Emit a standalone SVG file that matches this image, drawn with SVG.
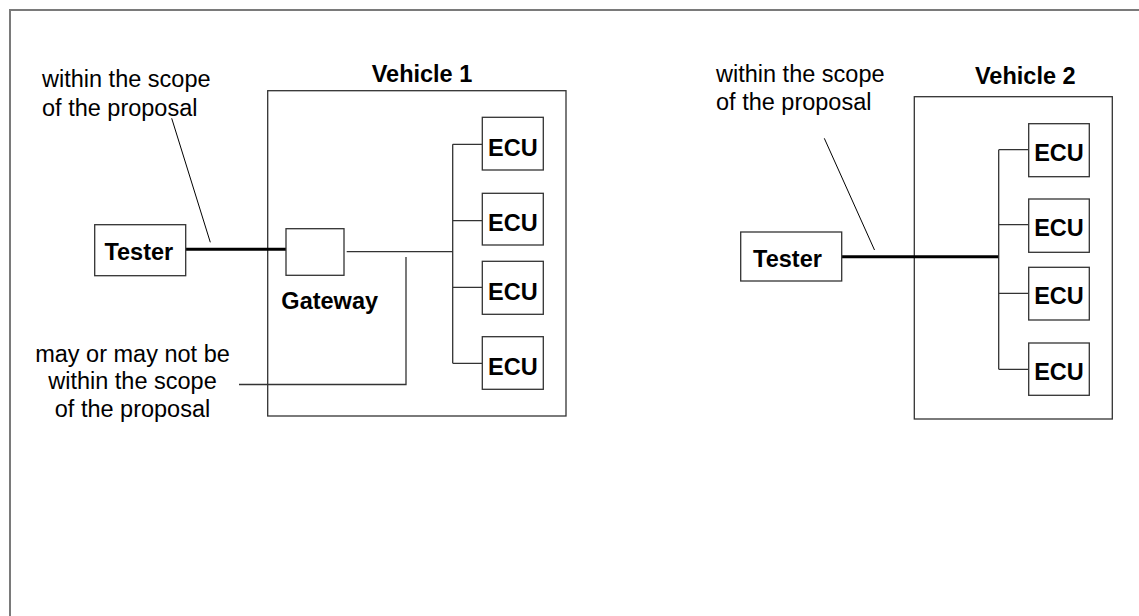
<svg xmlns="http://www.w3.org/2000/svg" width="1139" height="616" viewBox="0 0 1139 616">
<style>
.box{fill:#fff;stroke:#333;stroke-width:1.3}
.t{font-family:"Liberation Sans",Arial,sans-serif;font-size:23.5px;fill:#000}
.b{font-weight:bold}
.m{text-anchor:middle}
.thin{fill:none;stroke:#333;stroke-width:1.3}
.thick{fill:none;stroke:#000;stroke-width:3}
.ptr{fill:none;stroke:#000;stroke-width:1}
</style>
<rect width="1139" height="616" fill="#fff"/>
<path d="M10,616 V10 H1139" fill="none" stroke="#7a7a7a" stroke-width="2"/>

<g id="vehicle1">
<rect class="box" x="267.7" y="90.7" width="298.3" height="325.3"/>
<text class="t b m" x="422" y="81.7">Vehicle 1</text>
</g>
<g id="vehicle2">
<rect class="box" x="914.3" y="96.7" width="198" height="322.3"/>
<text class="t b m" x="1025.3" y="84.3">Vehicle 2</text>
</g>

<g id="connectors">
<path class="thick" d="M185.7,249.3 H286"/>
<path class="thin" d="M346.7,251.7 H452.7 M452.7,144.3 V363.3 M452.7,144.3 H482.3 M452.7,220.7 H482.3 M452.7,287.3 H482.3 M452.7,363.3 H482.3"/>
<path class="thin" d="M239,384.5 H406 V257"/>
<path class="ptr" d="M171.7,118.3 L210.3,242.3"/>
<path class="thick" d="M841.7,256.7 H999"/>
<path class="thin" d="M998.7,149.7 V369.3 M998.7,149.7 H1028.7 M998.7,224.7 H1028.7 M998.7,293.3 H1028.7 M998.7,369.3 H1028.7"/>
<path class="ptr" d="M824.3,138.3 L874.5,250"/>
</g>

<g id="tester1">
<rect class="box" x="94.7" y="224.7" width="91" height="51"/>
<text class="t b m" x="138.8" y="260">Tester</text>
</g>
<g id="gateway">
<rect class="box" x="286" y="228.7" width="58" height="46.6"/>
<text class="t b m" x="329.7" y="309.3">Gateway</text>
</g>
<g id="v1ecu1"><rect class="box" x="482.3" y="117.3" width="61" height="52.7"/><text class="t b m" x="512.8" y="155.7">ECU</text></g>
<g id="v1ecu2"><rect class="box" x="482.3" y="193.3" width="61" height="51.7"/><text class="t b m" x="512.8" y="231">ECU</text></g>
<g id="v1ecu3"><rect class="box" x="482.3" y="261.3" width="61" height="53"/><text class="t b m" x="512.8" y="299.5">ECU</text></g>
<g id="v1ecu4"><rect class="box" x="482.3" y="336.7" width="61" height="52.6"/><text class="t b m" x="512.8" y="375">ECU</text></g>

<g id="tester2">
<rect class="box" x="740.7" y="232" width="101" height="49"/>
<text class="t b m" x="787.5" y="267.3">Tester</text>
</g>
<g id="v2ecu1"><rect class="box" x="1028.7" y="123.7" width="60.6" height="53"/><text class="t b m" x="1059" y="160.5">ECU</text></g>
<g id="v2ecu2"><rect class="box" x="1028.7" y="199" width="60.6" height="53.3"/><text class="t b m" x="1059" y="236">ECU</text></g>
<g id="v2ecu3"><rect class="box" x="1028.7" y="267.3" width="60.6" height="52.7"/><text class="t b m" x="1059" y="304">ECU</text></g>
<g id="v2ecu4"><rect class="box" x="1028.7" y="343" width="60.6" height="52.3"/><text class="t b m" x="1059" y="380">ECU</text></g>

<g id="note1">
<text class="t" x="42" y="87">within the scope</text>
<text class="t" x="42" y="115.5">of the proposal</text>
</g>
<g id="note2">
<text class="t m" x="132.5" y="361.7">may or may not be</text>
<text class="t m" x="132.5" y="389.3">within the scope</text>
<text class="t m" x="132.5" y="417.3">of the proposal</text>
</g>
<g id="note3">
<text class="t" x="716" y="81.7">within the scope</text>
<text class="t" x="716" y="110">of the proposal</text>
</g>
</svg>
